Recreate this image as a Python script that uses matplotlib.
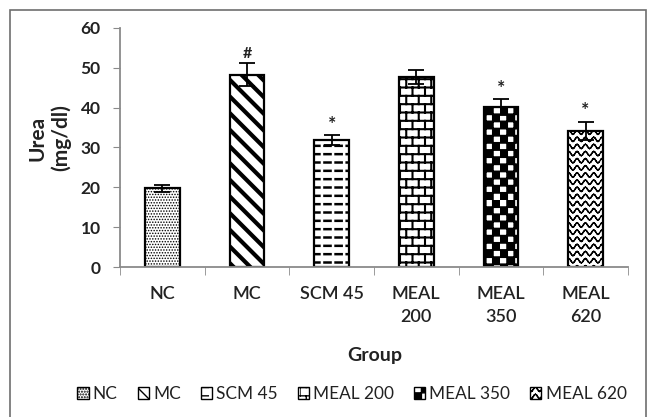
import matplotlib
matplotlib.use("Agg")
import matplotlib.pyplot as plt
import matplotlib.hatch as mhatch
from matplotlib.path import Path
from matplotlib.patches import Rectangle, Patch
import numpy as np

# values
groups = ["NC", "MC", "SCM 45", "MEAL 200", "MEAL 350", "MEAL 620"]
tick_labels = ["NC", "MC", "SCM 45", "MEAL\n200", "MEAL\n350", "MEAL\n620"]
urea = [19.8, 48.3, 31.9, 47.7, 40.2, 34.2]
urea_err = [0.9, 2.8, 1.2, 1.8, 2.0, 2.3]
marks = ["", "#", "*", "", "*", "*"]


# --- a few extra hatch textures (dashes, bricks, checkers, waves) ---
class DashHatch(mhatch.HatchPatternBase):
    rows, cols, frac = 12, 9, 0.55

    def __init__(self, hatch, density):
        self.on = hatch.count("d") > 0
        self.num_vertices = self.rows * self.cols * 2 if self.on else 0

    def set_vertices_and_codes(self, vertices, codes):
        k = 0
        for r in range(self.rows):
            y = (r + 0.5) / self.rows
            for c in range(self.cols):
                x0 = (c + 0.2) / self.cols
                vertices[k] = (x0, y)
                vertices[k + 1] = (x0 + self.frac / self.cols, y)
                codes[k] = Path.MOVETO
                codes[k + 1] = Path.LINETO
                k += 2


class BrickHatch(mhatch.HatchPatternBase):
    rows, cols = 12, 8

    def __init__(self, hatch, density):
        self.on = hatch.count("b") > 0
        self.num_vertices = (self.rows * 2 + self.rows * self.cols * 2 + self.cols * 2) if self.on else 0

    def set_vertices_and_codes(self, vertices, codes):
        k = 0
        h = 1.0 / self.rows
        for r in range(self.rows):
            y = (r + 0.5) * h
            vertices[k] = (0, y)
            vertices[k + 1] = (1, y)
            codes[k], codes[k + 1] = Path.MOVETO, Path.LINETO
            k += 2
        for r in range(self.rows):
            y0 = (r + 0.5) * h
            y1 = min(y0 + h, 1.0)
            for c in range(self.cols):
                x = (c + 0.5 * (r % 2)) / self.cols
                vertices[k] = (x, y0)
                vertices[k + 1] = (x, y1)
                codes[k], codes[k + 1] = Path.MOVETO, Path.LINETO
                k += 2
        # wrap-around part of the top row of joints
        for c in range(self.cols):
            x = (c + 0.5 * ((self.rows - 1) % 2)) / self.cols
            vertices[k] = (x, 0)
            vertices[k + 1] = (x, 0.5 * h)
            codes[k], codes[k + 1] = Path.MOVETO, Path.LINETO
            k += 2


class CheckerHatch(mhatch.HatchPatternBase):
    n = 14

    def __init__(self, hatch, density):
        self.on = hatch.count("k") > 0
        self.num_vertices = (self.n * self.n // 2) * 5 if self.on else 0

    def set_vertices_and_codes(self, vertices, codes):
        k = 0
        s = 1.0 / self.n
        for i in range(self.n):
            for j in range(self.n):
                if (i + j) % 2:
                    continue
                x, y = i * s, j * s
                vertices[k:k + 5] = [(x, y), (x + s, y), (x + s, y + s), (x, y + s), (x, y)]
                codes[k:k + 5] = [Path.MOVETO, Path.LINETO, Path.LINETO, Path.LINETO, Path.CLOSEPOLY]
                k += 5


class WaveHatch(mhatch.HatchPatternBase):
    rows, periods, seg = 14, 12, 8

    def __init__(self, hatch, density):
        self.on = hatch.count("w") > 0
        self.num_vertices = self.rows * self.periods * self.seg * 2 if self.on else 0

    def set_vertices_and_codes(self, vertices, codes):
        nseg = self.periods * self.seg
        xs = np.linspace(0, 1, nseg + 1)
        amp = 0.3 / self.rows
        k = 0
        for r in range(self.rows):
            yc = (r + 0.5) / self.rows
            ys = yc + amp * np.sin(2 * np.pi * self.periods * xs)
            for s in range(nseg):
                vertices[k] = (xs[s], ys[s])
                vertices[k + 1] = (xs[s + 1], ys[s + 1])
                codes[k], codes[k + 1] = Path.MOVETO, Path.LINETO
                k += 2


mhatch._hatch_types.extend([DashHatch, BrickHatch, CheckerHatch, WaveHatch])
mhatch._validate_hatch_pattern = lambda hatch: None

hatches = ["......", "\\\\", "d", "b", "k", "w"]
hatch_lw = [0.7, 3.0, 1.8, 1.5, 1.3, 1.0]

plt.rcParams["font.family"] = ["Lato", "DejaVu Sans"]

fig = plt.figure(figsize=(6.47, 4.17), dpi=100)
ax = fig.add_axes([0.1855, 0.3597, 0.785, 0.5732])

# outer frame of the picture
fig.patches.append(Rectangle((10 / 647, -0.2), 636 / 647, 1.2 - 10 / 417,
                             transform=fig.transFigure, fill=False,
                             edgecolor="#6e6e6e", linewidth=1.2))

x = np.arange(len(groups))
for i in range(len(groups)):
    with plt.rc_context({"hatch.linewidth": hatch_lw[i]}):
        ax.bar(x[i], urea[i], width=0.41, color="white", edgecolor="black",
               linewidth=1.6, hatch=hatches[i], zorder=2)

ax.errorbar(x, urea, yerr=urea_err, fmt="none", ecolor="black", elinewidth=1.3,
            capsize=6, capthick=1.3, zorder=3)

for i, m in enumerate(marks):
    if m:
        ax.text(x[i], urea[i] + urea_err[i] + 0.6, m, ha="center", va="bottom",
                fontsize=14 if m == "*" else 11.5, fontweight="bold", color="#222222")

ax.set_xlim(-0.5, len(groups) - 0.5)
ax.set_ylim(0, 60)
ax.set_yticks(range(0, 61, 10))
ax.set_xticks(x)
ax.set_xticklabels(tick_labels, fontsize=13, fontweight="semibold", color="#222222",
                   linespacing=1.5)
ax.set_xticks(np.arange(-0.5, len(groups), 1), minor=True)
ax.tick_params(axis="x", which="major", length=0, pad=14)
ax.tick_params(axis="x", which="minor", length=6, color="#8a8a8a", direction="out")
ax.tick_params(axis="y", length=5, color="#8a8a8a", labelsize=12.5, pad=9)
for lab in ax.get_yticklabels():
    lab.set_fontweight("bold")
    lab.set_color("#222222")

for s in ["top", "right"]:
    ax.spines[s].set_visible(False)
for s in ["left", "bottom"]:
    ax.spines[s].set_color("#8a8a8a")
    ax.spines[s].set_linewidth(1.3)

fig.text(375 / 647, 1 - 355 / 417, "Group", ha="center", va="center",
         fontsize=14, fontweight="bold", color="#222222")
fig.text(49 / 647, 1 - 138 / 417, "Urea\n(mg/dl)", ha="center", va="center",
         rotation=90, fontsize=15, fontweight="bold", color="#222222",
         multialignment="center", linespacing=1.2)

handles = []
for i, g in enumerate(groups):
    with plt.rc_context({"hatch.linewidth": min(hatch_lw[i], 1.2)}):
        handles.append(Patch(facecolor="white", edgecolor="black", hatch=hatches[i], label=g))
fig.legend(handles=handles, loc="center", bbox_to_anchor=(352 / 647, 1 - 394 / 417), ncol=6,
           frameon=False, fontsize=12.4, handlelength=0.65, handleheight=0.65,
           handletextpad=0.25, columnspacing=1.15, borderaxespad=0, borderpad=0,
           labelcolor="#222222")

fig.savefig("out.png", dpi=100)
